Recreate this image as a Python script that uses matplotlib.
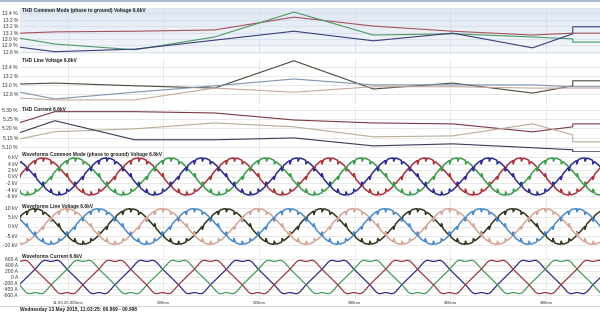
import numpy as np
import matplotlib.pyplot as plt
from matplotlib.colors import LinearSegmentedColormap

plt.rcParams['font.family'] = ['Liberation Sans', 'DejaVu Sans']

# THD trend values (one point every ~16.7 ms, last block is a step)
thd_t = [870.0, 877.3, 894.0, 910.7, 927.3, 943.9, 960.5, 977.2, 985.6, 985.6, 991.3]

thd_cm_red = [13.09, 13.11, 13.12, 13.14, 13.34, 13.20, 13.12, 13.06, 13.09, 13.09, 13.09]
thd_cm_green = [13.01, 12.92, 12.83, 13.03, 13.42, 13.06, 13.08, 13.03, 13.00, 12.95, 12.95]
thd_cm_navy = [12.87, 12.80, 12.84, 12.98, 13.12, 12.97, 13.09, 12.86, 13.08, 13.19, 13.19]

thd_lv_dark = [13.02, 13.04, 12.98, 12.93, 13.53, 12.91, 13.04, 12.82, 12.98, 13.09, 13.09]
thd_lv_blue = [12.84, 12.69, 12.84, 12.98, 13.13, 13.00, 13.00, 13.00, 12.96, 12.96, 12.96]
thd_lv_tan = [12.71, 12.67, 12.67, 12.93, 12.84, 12.96, 12.96, 12.93, 12.93, 12.93, 12.93]

thd_i_maroon = [5.232, 5.291, 5.291, 5.284, 5.246, 5.230, 5.225, 5.182, 5.209, 5.225, 5.225]
thd_i_tan = [5.144, 5.183, 5.198, 5.230, 5.209, 5.155, 5.160, 5.225, 5.166, 5.128, 5.128]
thd_i_dark = [5.178, 5.242, 5.139, 5.139, 5.149, 5.106, 5.117, 5.096, 5.085, 5.074, 5.074]

# waveforms: 50 Hz, amplitude and time of the positive peak of each phase (ms)
freq = 50.0
cm_amp = 5.7          # kV
cm_peaks = [874.8, 881.5, 888.1]      # red, green, navy
lv_amp = 9.6          # kV
lv_peaks = [873.1, 879.8, 886.4]      # olive, tan, blue
cur_amp = 570.0       # A
cur_peaks = [876.5, 883.2, 889.8]     # navy, green, maroon
cur_harm = [1, 5, 7]
cur_harm_amp = [1.0, -0.06, -0.03]

# commutation notches (deg from positive peak), depth as fraction of amplitude
notch_deg = [-60, -30, 0, 30, 60, 90, 120, 150, 180, 210, 240, 270]
notch_depth = 0.2
notch_width = 7.0

xticks = [880, 900, 920, 940, 960, 980]
xticklabels = ['11:03:25.880ms', '900ms', '920ms', '940ms', '960ms', '980ms']

cm_ticks = [6, 4, 2, 0, -2, -4, -6]
lv_ticks = [10, 5, 0, -5, -10]
cur_ticks = [600, 400, 200, 0, -200, -400, -600]


def notched_wave(t, amp, peak):
    ang = (360.0 * freq * (t - peak) / 1000.0) % 360.0
    v = amp * np.cos(np.radians(ang))
    for nd in notch_deg:
        p = ((ang - nd) % 360.0) / notch_width
        m = p < 1.0
        v[m] -= np.sign(v[m]) * notch_depth * amp * (1.0 - p[m])
    return v


def current_wave(t, amp, peak):
    ang = np.radians(360.0 * freq * (t - peak) / 1000.0)
    v = np.zeros_like(t)
    for h, a in zip(cur_harm, cur_harm_amp):
        v += a * np.cos(h * ang)
    return amp * v


W, H = 600.0, 313.0
fig = plt.figure(figsize=(6, 3.13), dpi=100)
fig.patch.set_facecolor('white')

GRID = '#e4e4e4'
FS = 3.6


def panel(top, bottom, v1, y1, v2, y2, title, ticks, fmt):
    ax = fig.add_axes([20 / W, 1 - bottom / H, 580 / W, (bottom - top) / H])
    scale = (y2 - y1) / (v1 - v2)
    ax.set_ylim(v2 - (bottom - y2) / scale, v1 + (y1 - top) / scale)
    ax.set_xlim(870.0, 991.3)
    ax.set_yticks(ticks)
    ax.set_yticklabels([fmt(v) for v in ticks])
    ax.set_xticks(xticks)
    ax.set_xticklabels([])
    ax.tick_params(length=0, labelsize=FS, pad=1.5, colors='#333333')
    ax.grid(True, color=GRID, lw=0.6)
    ax.set_axisbelow(True)
    for s in ax.spines.values():
        s.set_visible(False)
    ax.text(2 / 580, 1.0, title, transform=ax.transAxes, fontsize=3.5,
            fontweight='bold', color='#222222', va='top', ha='left', zorder=5)
    return ax


# THD Common Mode (selected panel, bluish gradient)
ax1 = panel(8, 54, 13.4, 13.3, 12.8, 51.7, 'THD Common Mode (phase to ground) Voltage 6.6kV',
            [13.4, 13.3, 13.2, 13.1, 13.0, 12.9, 12.8], lambda v: '%.1f %%' % v)
blue_fade = LinearSegmentedColormap.from_list('fade', ['#f6f8fc', '#dfe7f3'])
ax1.imshow(np.linspace(0, 1, 50).reshape(-1, 1), cmap=blue_fade, aspect='auto',
           origin='lower', extent=[*ax1.get_xlim(), *ax1.get_ylim()], zorder=0)
ax1.grid(True, color='#d8dfea', lw=0.6)
ax1.plot(thd_t, thd_cm_red, color='#a5525a', lw=0.8)
ax1.plot(thd_t, thd_cm_green, color='#4e9a62', lw=0.8)
ax1.plot(thd_t, thd_cm_navy, color='#3a3f7a', lw=0.8)

# THD Line Voltage
ax2 = panel(58, 104, 13.4, 66.7, 12.8, 94.0, 'THD Line Voltage 6.6kV',
            [13.4, 13.2, 13.0, 12.8], lambda v: '%.1f %%' % v)
ax2.plot(thd_t, thd_lv_dark, color='#4a4a3a', lw=0.8)
ax2.plot(thd_t, thd_lv_blue, color='#7f95ad', lw=0.8)
ax2.plot(thd_t, thd_lv_tan, color='#c7aaa0', lw=0.8)

# THD Current
ax3 = panel(107, 152, 5.30, 110.0, 5.10, 147.0, 'THD Current 6.6kV',
            [5.30, 5.25, 5.20, 5.15, 5.10], lambda v: '%.2f %%' % v)
ax3.plot(thd_t, thd_i_maroon, color='#7a3a40', lw=0.8)
ax3.plot(thd_t, thd_i_tan, color='#b9ab98', lw=0.8)
ax3.plot(thd_t, thd_i_dark, color='#3a3a55', lw=0.8)

t = np.arange(869.5, 992.0, 0.05)

# Waveform Common Mode
ax4 = panel(152, 203, 6, 157.0, -6, 196.0, 'Waveforms Common Mode (phase to ground) Voltage 6.6kV',
            cm_ticks, lambda v: '%d kV' % v)
for pk, c in zip(cm_peaks, ['#a8333a', '#3d9a4c', '#2c2c8c']):
    ax4.plot(t, notched_wave(t, cm_amp, pk), color=c, lw=1.1)

# Waveform Line Voltage
ax5 = panel(204, 252, 10, 208.0, -10, 245.0, 'Waveforms Line Voltage 6.6kV',
            lv_ticks, lambda v: '%d kV' % v)
for pk, c in zip(lv_peaks, ['#35351f', '#d3a596', '#4b8ac4']):
    ax5.plot(t, notched_wave(t, lv_amp, pk), color=c, lw=1.1)

# Waveform Current
ax6 = panel(254, 300, 600, 259.0, -600, 295.0, 'Waveforms Current 6.6kV',
            cur_ticks, lambda v: '%d A' % v)
for pk, c in zip(cur_peaks, ['#2d2d80', '#4a9a5a', '#9a3a40']):
    ax6.plot(t, current_wave(t, cur_amp, pk), color=c, lw=0.9)
ax6.set_xticklabels(xticklabels)
ax6.tick_params(axis='x', labelsize=3.2, pad=1)

fig.add_artist(plt.Line2D([0, 1], [1 - 306 / H, 1 - 306 / H], color='#cccccc', lw=0.6))
fig.add_artist(plt.Line2D([0, 1], [1 - 0.5 / H, 1 - 0.5 / H], color='#9aaac4', lw=1.2))
fig.text(20 / W, 1 - 310 / H, 'Wednesday 13 May 2015, 11:03:25: 00.869 - 00.998',
         fontsize=3.5, fontweight='bold', color='#222222', va='center', ha='left')

fig.savefig('out.png', dpi=100)
